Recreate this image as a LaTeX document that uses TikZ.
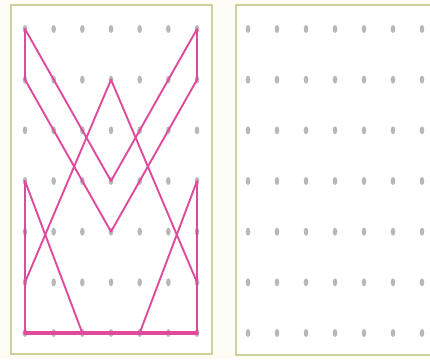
\documentclass[tikz,border=0pt]{standalone}
\usepackage{tikz}
\definecolor{framecol}{HTML}{C9D39A}
\definecolor{pinkline}{HTML}{E04A9C}
\definecolor{dotcol}{HTML}{B8B8B8}
\definecolor{bgcol}{HTML}{FDFDF6}
\tikzset{
  frame/.style={draw=framecol, line width=1.5pt, fill=white},
  gdot/.style={fill=dotcol, draw=none},
  pline/.style={draw=pinkline, line width=1.9pt, line cap=round, line join=round},
  pthick/.style={draw=pinkline, line width=3.6pt, line cap=round}
}
\begin{document}
\begin{tikzpicture}[x=1pt,y=-1pt]
\fill[bgcol] (0,0) rectangle (430,359);
\useasboundingbox (0,0) rectangle (430,359);
% frames
\draw[frame] (11,5) rectangle (212,354);
\draw[frame] (236,5) rectangle (440,355);
% grid coordinates
\foreach \i in {0,...,6}{
  \foreach \j in {0,...,6}{
    \coordinate (L\i-\j) at ({25+28.67*\i},{29+50.67*\j});
    \coordinate (R\i-\j) at ({248+29*\i},{29+50.67*\j});
    \fill[gdot] (L\i-\j) ellipse (2.3 and 4);
    \fill[gdot] (R\i-\j) ellipse (2.3 and 4);
  }
}
% pink figure
\draw[pline] (L0-0) -- (L0-1);
\draw[pline] (L6-0) -- (L6-1);
\draw[pline] (L0-0) -- (L3-3) -- (L6-0);
\draw[pline] (L0-1) -- (L3-4) -- (L6-1);
\draw[pline] (L0-5) -- (L3-1) -- (L6-5);
\draw[pline] (L0-3) -- (L0-6);
\draw[pline] (L6-3) -- (L6-6);
\draw[pline] (L0-3) -- (L2-6);
\draw[pline] (L6-3) -- (L4-6);
\draw[pthick] (L0-6) -- (L6-6);
\end{tikzpicture}
\end{document}
